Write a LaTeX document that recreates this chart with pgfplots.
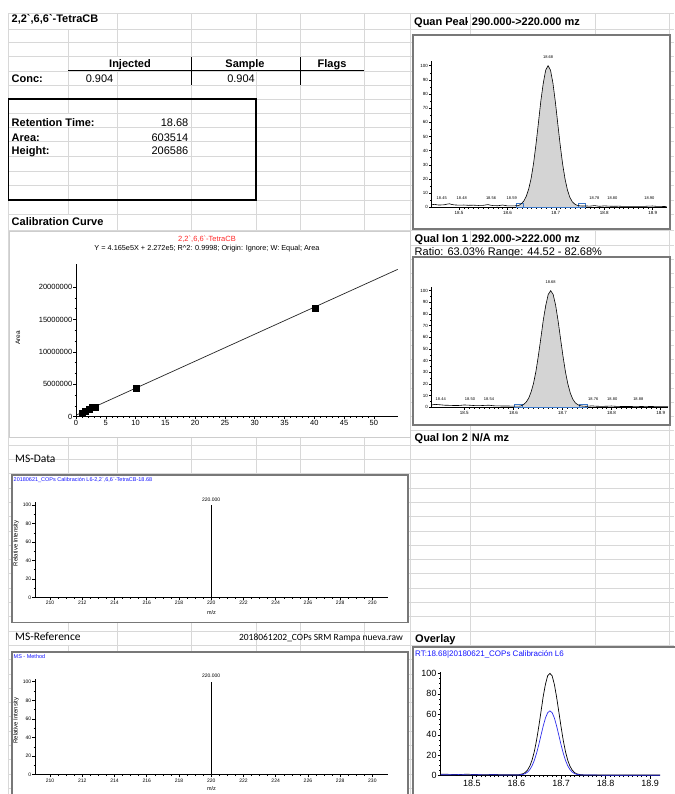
\documentclass[border=0pt]{standalone}
\usepackage{fontspec}
\setmainfont{Liberation Sans}
\newfontfamily\calib{Carlito}
\usepackage{pgfplots}
\pgfplotsset{compat=1.18}
\definecolor{gridc}{RGB}{216,216,216}
\definecolor{panelc}{RGB}{120,120,120}
\definecolor{calpanel}{RGB}{205,205,205}
\definecolor{peakgray}{RGB}{212,212,212}
\definecolor{msblue}{RGB}{20,20,255}
\definecolor{ovblue}{RGB}{45,45,235}
\definecolor{calred}{RGB}{255,40,40}
\definecolor{bndblue}{RGB}{60,120,200}
\newcommand{\bt}{\textasciigrave}
\newcommand{\fs}[1]{\fontsize{#1}{#1}\selectfont}
\pgfplotsset{
  base/.style={scale only axis, axis lines*=left, axis line style={-, line width=0.6pt},
    tick align=outside, tick style={black, line width=0.45pt},
    major tick length=2.6pt, minor tick length=1.4pt, clip=false,
    /pgf/number format/assume math mode=true, scaled ticks=false,
    xticklabel style={inner sep=1pt}, yticklabel style={inner sep=1pt}},
  chrom/.style={base, tick label style={font=\fs{4.5}}, ymin=0, ymax=103,
    ytick={0,10,...,100}, minor y tick num=1,
    xtick={18.5,18.6,18.7,18.8,18.9}, minor x tick num=9,
    xticklabel style={/pgf/number format/.cd, fixed, precision=1}},
  ms/.style={base, tick label style={font=\fs{5}}, xmin=209.07, xmax=230.95, ymin=0, ymax=103,
    xtick={210,212,...,230}, minor x tick num=3, ytick={0,20,...,100}, minor y tick num=1,
    width=352.7pt},
}
\tikzset{
  cellb/.style={font=\fs{11}\bfseries, anchor=base west, inner sep=0pt},
  cellr/.style={font=\fs{11}, anchor=base west, inner sep=0pt},
}
\begin{document}
\begin{tikzpicture}[x=1pt,y=1pt]
\path[use as bounding box] (0,0) rectangle (674,-794);
\fill[white] (0,0) rectangle (674,-794);
% spreadsheet grid
\foreach \yy in {13.3,29.3,42.7,56.7,71,85,99,113.3,127.7,141.5,156,171,185,200,214,230.5}
  \draw[gridc, line width=0.9pt] (8,-\yy) -- (674,-\yy);
\foreach \k in {0,...,38}
  \draw[gridc, line width=0.9pt] (8,{-(245+14.3*\k)}) -- (674,{-(245+14.3*\k)});
\foreach \xx in {8,68,117,191,256,300,364,410,470,595,669}
  \draw[gridc, line width=0.9pt] (\xx,-13.3) -- (\xx,-794);
% hide grid behind overflowing text
\fill[white] (9,-13.9) rectangle (110,-28.7);
\fill[white] (69,-57.3) rectangle (190.5,-70.4);
\fill[white] (191.5,-57.3) rectangle (299.5,-70.4);
\fill[white] (9,-113.9) rectangle (100,-127.1);
\fill[white] (9,-214.6) rectangle (108,-229.9);
\fill[white] (9,-631.6) rectangle (90,-645);
\fill[white] (411,-245.6) rectangle (600,-256.5);
% table frame lines
\draw[black, line width=1pt] (68,-71) -- (364,-71);
\draw[black, line width=1pt] (191,-57) -- (191,-85);
\draw[black, line width=1pt] (300,-57) -- (300,-85);
\draw[black, line width=1.3pt] (8.3,-99) rectangle (256,-200);
% texts
\node[cellb] at (11.5,-22.3) {2,2\bt,6,6\bt-TetraCB};
\node[cellb, anchor=base] at (130,-67.8) {Injected};
\node[cellb, anchor=base] at (245,-67.8) {Sample};
\node[cellb, anchor=base] at (332,-67.8) {Flags};
\node[cellb] at (11.5,-82.3) {Conc:};
\node[cellr, anchor=base east] at (113.5,-82.3) {0.904};
\node[cellr, anchor=base east] at (255,-82.3) {0.904};
\node[cellb] at (11.5,-126.7) {Retention Time:};
\node[cellr, anchor=base east] at (188.5,-126.7) {18.68};
\node[cellb] at (11.5,-141.2) {Area:};
\node[cellr, anchor=base east] at (188.5,-141.2) {603514};
\node[cellb] at (11.5,-154.6) {Height:};
\node[cellr, anchor=base east] at (188.5,-154.6) {206586};
\node[cellb] at (11.5,-225.7) {Calibration Curve};
\begin{scope}
\clip (411,-14) rectangle (467.5,-29);
\node[cellb] at (414,-25.7) {Quan Peak};
\end{scope}
\node[cellb] at (471.7,-25.7) {290.000->220.000 mz};
\node[cellb] at (414.5,-242.3) {Qual Ion 1};
\node[cellb] at (471.7,-242.3) {292.000->222.000 mz};
\node[cellr] at (414.5,-255.6) {Ratio: 63.03\% Range: 44.52 - 82.68\%};
\node[cellb] at (414.5,-441.3) {Qual Ion 2};
\node[cellb] at (471.7,-441.3) {N/A mz};
\node[cellb] at (415,-642.3) {Overlay};
\node[font=\calib\fs{11.5}, anchor=base west, inner sep=0pt] at (15,-462.9) {MS-Data};
\node[font=\calib\fs{11.5}, anchor=base west, inner sep=0pt] at (15,-640.3) {MS-Reference};
\node[font=\calib\fs{9.5}, anchor=base east, inner sep=0pt] at (403,-640.3) {2018061202\_COPs SRM Rampa nueva.raw};
% panels
\draw[panelc, line width=1.4pt, fill=white] (413,-35) rectangle (670,-229);
\draw[panelc, line width=1.4pt, fill=white] (413,-257) rectangle (670,-425);
\draw[calpanel, line width=1pt, fill=white] (9,-231.5) rectangle (410,-437);
\draw[panelc, line width=1.4pt, fill=white] (12,-475) rectangle (408,-622.7);
\draw[panelc, line width=1.4pt, fill=white] (12,-652) rectangle (408,-800);
\draw[panelc, line width=1.4pt, fill=white] (413,-647) rectangle (680,-800);
% ---------------- Quan peak
\begin{axis}[chrom, at={(431.7pt,-207.3pt)}, anchor=south west, width=235pt, height=145.9pt,
  xmin=18.4436, xmax=18.929]
\addplot[draw=none, fill=peakgray] coordinates {
 (18.620,1.1)(18.624,1.4)(18.629,2.6)(18.634,4.5)(18.639,7.8)(18.644,13.0)(18.649,20.5)
 (18.654,31.0)(18.659,44.5)(18.664,59.5)(18.669,75.0)(18.674,87.5)(18.679,96.8)(18.684,100)
 (18.689,96.8)(18.694,87.7)(18.699,74.4)(18.704,59.1)(18.709,44.0)(18.714,30.6)(18.719,20.0)
 (18.724,12.2)(18.729,7.0)(18.734,3.9)(18.739,2.3)(18.744,1.4)(18.750,1.0)(18.757,0.9)} \closedcycle;
\addplot[bndblue, line width=0.6pt] coordinates {(18.6178,0)(18.6178,2.5)(18.6329,2.5)(18.6329,0)(18.6178,0)};
\addplot[bndblue, line width=0.6pt] coordinates {(18.7465,0)(18.7465,2.5)(18.7618,2.5)(18.7618,0)(18.7465,0)};
\addplot[bndblue, line width=0.6pt] coordinates {(18.6329,0.3)(18.7465,0.3)};
\addplot[black, line width=0.6pt] coordinates {
 (18.4436,1.8)(18.45,2.1)(18.455,1.7)(18.46,1.6)(18.47,1.8)(18.475,2.2)(18.48,2.5)(18.485,2.0)
 (18.49,1.7)(18.50,1.5)(18.51,1.6)(18.52,1.4)(18.53,1.5)(18.54,1.3)(18.55,1.4)(18.56,1.9)
 (18.565,1.5)(18.57,1.2)(18.58,1.1)(18.59,1.6)(18.595,1.3)(18.60,1.0)(18.61,1.0)
 (18.620,1.1)(18.624,1.4)(18.629,2.6)(18.634,4.5)(18.639,7.8)(18.644,13.0)(18.649,20.5)
 (18.654,31.0)(18.659,44.5)(18.664,59.5)(18.669,75.0)(18.674,87.5)(18.679,96.8)(18.684,100)
 (18.689,96.8)(18.694,87.7)(18.699,74.4)(18.704,59.1)(18.709,44.0)(18.714,30.6)(18.719,20.0)
 (18.724,12.2)(18.729,7.0)(18.734,3.9)(18.739,2.3)(18.744,1.4)(18.750,1.0)(18.757,0.9)
 (18.765,0.9)(18.77,0.8)(18.78,1.2)(18.79,0.7)(18.80,1.0)(18.81,0.8)(18.82,0.7)(18.83,0.8)
 (18.84,0.6)(18.85,0.7)(18.86,0.6)(18.87,0.7)(18.88,0.6)(18.89,0.8)(18.90,0.9)(18.91,0.6)
 (18.92,0.6)(18.929,0.5)};
\node[font=\fs{4}] at (axis cs:18.684,106) {18.68};
\node[font=\fs{4}] at (axis cs:18.4643,6.6) {18.45};
\node[font=\fs{4}] at (axis cs:18.5056,6.6) {18.48};
\node[font=\fs{4}] at (axis cs:18.5661,6.6) {18.56};
\node[font=\fs{4}] at (axis cs:18.6089,6.6) {18.59};
\node[font=\fs{4}] at (axis cs:18.7795,6.6) {18.78};
\node[font=\fs{4}] at (axis cs:18.8167,6.6) {18.80};
\node[font=\fs{4}] at (axis cs:18.8932,6.6) {18.90};
\end{axis}
% ---------------- Qual ion 1
\begin{axis}[chrom, at={(431.7pt,-407.3pt)}, anchor=south west, width=236.3pt, height=120.1pt,
  xmin=18.4336, xmax=18.915]
\addplot[draw=none, fill=peakgray] coordinates {
 (18.612,1.0)(18.616,1.3)(18.621,2.5)(18.626,4.4)(18.631,7.7)(18.636,13)(18.641,20.5)
 (18.646,31)(18.651,44.5)(18.656,59.5)(18.661,75)(18.666,87.5)(18.671,96.8)(18.676,100)
 (18.681,96.8)(18.686,87.7)(18.691,74.4)(18.696,59.1)(18.701,44)(18.706,30.6)(18.711,20)
 (18.716,12.2)(18.721,7)(18.726,3.9)(18.731,2.3)(18.736,1.4)(18.742,1.0)(18.750,0.9)} \closedcycle;
\addplot[bndblue, line width=0.6pt] coordinates {(18.6018,0)(18.6018,2.5)(18.6181,2.5)(18.6181,0)(18.6018,0)};
\addplot[bndblue, line width=0.6pt] coordinates {(18.7342,0)(18.7342,2.5)(18.7505,2.5)(18.7505,0)(18.7342,0)};
\addplot[bndblue, line width=0.6pt] coordinates {(18.6181,0.3)(18.7342,0.3)};
\addplot[black, line width=0.6pt] coordinates {
 (18.4336,2.0)(18.44,2.5)(18.45,2.2)(18.46,1.8)(18.47,1.7)(18.48,1.5)(18.49,1.6)(18.50,2.0)
 (18.51,1.8)(18.52,1.5)(18.53,1.4)(18.54,1.6)(18.55,1.8)(18.56,1.3)(18.57,1.2)(18.58,1.1)
 (18.59,1.1)(18.60,1.0)
 (18.612,1.0)(18.616,1.3)(18.621,2.5)(18.626,4.4)(18.631,7.7)(18.636,13)(18.641,20.5)
 (18.646,31)(18.651,44.5)(18.656,59.5)(18.661,75)(18.666,87.5)(18.671,96.8)(18.676,100)
 (18.681,96.8)(18.686,87.7)(18.691,74.4)(18.696,59.1)(18.701,44)(18.706,30.6)(18.711,20)
 (18.716,12.2)(18.721,7)(18.726,3.9)(18.731,2.3)(18.736,1.4)(18.742,1.0)(18.750,0.9)
 (18.76,1.2)(18.77,0.9)(18.78,0.8)(18.79,0.9)(18.80,1.1)(18.81,0.8)(18.82,0.7)(18.83,0.7)
 (18.84,0.7)(18.85,0.8)(18.86,0.7)(18.87,0.6)(18.88,0.7)(18.89,0.6)(18.90,0.6)(18.915,0.5)};
\node[font=\fs{4}] at (axis cs:18.676,107.7) {18.68};
\node[font=\fs{4}] at (axis cs:18.452,7.1) {18.44};
\node[font=\fs{4}] at (axis cs:18.5116,7.1) {18.50};
\node[font=\fs{4}] at (axis cs:18.5503,7.1) {18.54};
\node[font=\fs{4}] at (axis cs:18.7627,7.1) {18.76};
\node[font=\fs{4}] at (axis cs:18.8014,7.1) {18.80};
\node[font=\fs{4}] at (axis cs:18.8544,7.1) {18.88};
\end{axis}
% ---------------- Calibration
\node[font=\fs{7.5}, text=calred] at (207,-239.3) {2,2\bt,6,6\bt-TetraCB};
\node[font=\fs{7.3}] at (207,-249) {Y = 4.165e5X + 2.272e5; R\textasciicircum 2: 0.9998; Origin: Ignore; W: Equal; Area};
\node[font=\fs{6.5}, rotate=90] at (18,-338) {Area};
\begin{axis}[base, at={(76pt,-416.7pt)}, anchor=south west, width=321.7pt, height=152.4pt,
  xmin=0, xmax=54, ymin=0, ymax=23500000,
  tick label style={font=\fs{7.5}},
  xtick={0,5,10,15,20,25,30,35,40,45,50}, minor x tick num=4,
  ytick={0,5000000,10000000,15000000,20000000},
  yticklabels={0,5000000,10000000,15000000,20000000}, minor y tick num=2]
\addplot[black!85, line width=0.7pt] coordinates {(0.2,310500)(54,22718200)};
\addplot[only marks, mark=square*, mark size=3pt, black] coordinates {
 (1.0,600000)(1.5,820000)(2.2,1150000)(2.8,1390000)(3.3,1500000)(10.1,4380000)(40.2,16780000)};
\end{axis}
% ---------------- MS-Data
\node[font=\fs{5.5}, text=msblue, anchor=west, inner sep=0pt] at (13.5,-480) {20180621\_COPs Calibración L6-2,2\bt,6,6\bt-TetraCB-18.68};
\node[font=\fs{6}, rotate=90] at (16,-543.3) {Relative Intensity};
\node[font=\fs{5.5}] at (211.5,-612.3) {m/z};
\begin{axis}[ms, at={(35pt,-597.3pt)}, anchor=south west, height=95pt]
\addplot[ycomb, black, line width=0.9pt] coordinates {(220,100)};
\node[font=\fs{5}] at (axis cs:220,106.2) {220.000};
\end{axis}
% ---------------- MS-Reference
\node[font=\fs{5.5}, text=msblue, anchor=west, inner sep=0pt] at (13.5,-656.7) {MS - Method};
\node[font=\fs{6}, rotate=90] at (16,-720.8) {Relative Intensity};
\node[font=\fs{5.5}] at (211.5,-789) {m/z};
\begin{axis}[ms, at={(35pt,-774.7pt)}, anchor=south west, height=95.8pt]
\addplot[ycomb, black, line width=0.9pt] coordinates {(220,100)};
\node[font=\fs{5}] at (axis cs:220,106.5) {220.000};
\end{axis}
% ---------------- Overlay
\node[font=\fs{8}, text=msblue, anchor=west, inner sep=0pt] at (415,-654.3) {RT:18.68|20180621\_COPs Calibración L6};
\begin{axis}[base, at={(440.7pt,-775.7pt)}, anchor=south west, width=219.3pt, height=104pt,
  xmin=18.430, xmax=18.922, ymin=0, ymax=101.6,
  tick label style={font=\fs{9}},
  xtick={18.5,18.6,18.7,18.8,18.9}, minor x tick num=9,
  xticklabel style={/pgf/number format/.cd, fixed, precision=1},
  ytick={0,20,...,100}, minor y tick num=3, major tick length=3pt]
\addplot[black, line width=0.7pt] coordinates {
 (18.430,1.5)(18.45,1.3)(18.47,1.2)(18.49,1.4)(18.51,1.1)(18.53,1.0)(18.55,1.2)(18.57,0.9)
 (18.59,1.0)(18.605,0.9)(18.615,2.0)(18.620,3.3)(18.625,5.7)(18.630,9.5)(18.635,15.3)
 (18.640,23.6)(18.645,34.6)(18.650,47.9)(18.655,62.6)(18.660,77.5)(18.665,89.4)(18.670,97.7)
 (18.675,100)(18.680,97.5)(18.685,89.2)(18.690,76.8)(18.695,62.4)(18.700,47.7)(18.705,34.4)
 (18.710,23.4)(18.715,15.1)(18.720,9.3)(18.725,5.5)(18.730,3.1)(18.735,1.8)(18.745,0.9)
 (18.76,0.7)(18.78,0.8)(18.80,0.6)(18.82,0.7)(18.84,0.6)(18.86,0.6)(18.88,0.7)(18.90,0.6)(18.922,0.6)};
\addplot[ovblue, line width=0.7pt] coordinates {
 (18.430,1.0)(18.45,0.9)(18.47,1.1)(18.49,0.8)(18.51,0.9)(18.53,0.8)(18.55,0.9)(18.57,0.7)
 (18.59,0.8)(18.605,0.7)(18.615,1.3)(18.620,2.2)(18.625,3.6)(18.630,6.0)(18.635,9.7)
 (18.640,14.9)(18.645,21.9)(18.650,30.2)(18.655,39.5)(18.660,48.6)(18.665,56.4)(18.670,61.6)
 (18.675,63.3)(18.680,61.6)(18.685,56.4)(18.690,48.6)(18.695,39.5)(18.700,30.2)(18.705,21.9)
 (18.710,14.9)(18.715,9.7)(18.720,6.0)(18.725,3.6)(18.730,2.2)(18.735,1.3)(18.745,0.7)
 (18.76,0.6)(18.78,0.6)(18.80,0.5)(18.82,0.5)(18.84,0.5)(18.86,0.5)(18.88,0.5)(18.90,0.5)(18.922,0.5)};
\end{axis}
\end{tikzpicture}
\end{document}
